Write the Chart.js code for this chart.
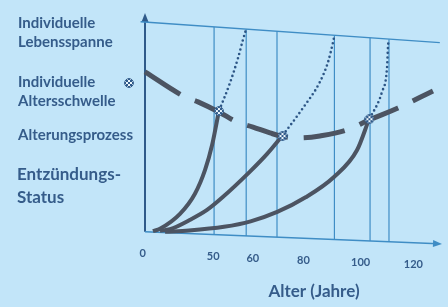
<!DOCTYPE html>
<html>
<head>
<meta charset="utf-8">
<script src="https://cdn.jsdelivr.net/npm/chart.js@4"></script>
<style>
  html, body { margin: 0; padding: 0; background: #c2e5f9; }
  #wrap { width: 448px; height: 307px; }
</style>
</head>
<body>
<div id="wrap"><canvas id="alterChart" width="448" height="307"></canvas></div>
<script>
// x is a schematic position along the age axis (the slide is not to scale), y a relative level
const xTickPos = [-1, 31, 49, 72, 98, 122];
const xTickLabels = ['0', '50', '60', '80', '100', '120'];

// individuelle Lebensspanne (thin top line)
const spanX = [-2, 134];
const spanY = [96, 86.5];

// vertical guide lines
const vLineX = [31.4, 46, 60, 86.1, 102.3, 110.9];
const vLineTop = [93.6, 92.6, 91.6, 89.8, 88.7, 88.0];
const vLineBottom = [-1.3, -1.9, -2.4, -3.5, -4.2, -4.5];

// Alterungsprozess / Altersschwelle (thick dashed)
const schwelleX = [0, 17.3, 24.1, 33.6, 41.8, 49.1, 56.8, 63.6, 70.5, 79.5, 91.8, 101.8, 115, 130.9];
const schwelleY = [73.1, 62.1, 59.4, 54.8, 50.2, 47.9, 45.2, 43.4, 42.9, 43.8, 46.6, 51.1, 56.6, 64.4];

// Entzündungs-Status, three individuals
const curve1X = [3.6, 6.8, 15.9, 22.7, 27.3, 30.5, 33.6];
const curve1Y = [0.3, 1.4, 8.2, 17.4, 28.3, 39.7, 55.3];
const curve2X = [6.8, 11.4, 20.5, 28.2, 35.5, 47.7, 55.5, 62.5];
const curve2Y = [0.5, 1.2, 5.5, 10, 16, 27.5, 35.6, 44];
const curve3X = [9.1, 20, 35.9, 48, 60.1, 73, 85.9, 96.4, 101.8];
const curve3Y = [0, 0.6, 2.3, 4.8, 9.1, 15.8, 25.1, 37.4, 51.4];

// dotted continuation up to the life span
const dot1X = [33.8, 38.6, 42.3, 44.5, 45.9];
const dot1Y = [55.6, 68, 79.5, 87.7, 92.4];
const dot2X = [62.7, 71.8, 79.5, 83.2, 85.5, 86.1];
const dot2Y = [44.2, 56.6, 68.5, 77.6, 86.8, 89.6];
const dot3X = [102.2, 107.7, 110, 110.5, 110.9];
const dot3Y = [51.8, 63.9, 74.9, 85.4, 87.9];

// crossing points
const crossX = [33.6, 62.5, 102];
const crossY = [55.2, 43.8, 51.5];

const leftLabels = [
  ['Individuelle', 28], ['Lebensspanne', 47],
  ['Individuelle', 87], ['Altersschwelle', 106],
  ['Alterungsprozess', 140]
];
const bigLabels = [['Entzündungs-', 180], ['Status', 203]];

const lineCol = '#4c5462';
const blueCol = '#3f8dc5';
const textCol = '#355c8a';

function pts(xs, ys) {
  return xs.map((x, i) => ({ x: x, y: ys[i] }));
}

function makeMarker(size) {
  const c = document.createElement('canvas');
  c.width = size; c.height = size;
  const g = c.getContext('2d');
  const r = size / 2;
  g.beginPath();
  g.arc(r, r, r - 0.6, 0, Math.PI * 2);
  g.fillStyle = '#eef7fc';
  g.fill();
  g.save();
  g.clip();
  g.fillStyle = '#2f5a8a';
  for (let i = 0; i < size; i += 2) {
    for (let j = 0; j < size; j += 2) {
      if ((i + j) % 4 === 0) g.fillRect(i, j, 2, 2);
    }
  }
  g.restore();
  g.strokeStyle = '#2f5a8a';
  g.lineWidth = 1;
  g.stroke();
  return c;
}
const marker = makeMarker(10);

const datasets = [];
datasets.push({
  data: pts(crossX, crossY), showLine: false, pointStyle: marker,
  pointRadius: 5, order: 0, clip: false
});
[[curve1X, curve1Y], [curve2X, curve2Y], [curve3X, curve3Y]].forEach(c => {
  datasets.push({
    data: pts(c[0], c[1]), borderColor: lineCol, borderWidth: 4,
    cubicInterpolationMode: 'monotone', pointRadius: 0, order: 1, clip: false
  });
});
datasets.push({
  data: pts(schwelleX, schwelleY), borderColor: lineCol, borderWidth: 5,
  borderDash: [42, 16], borderCapStyle: 'butt', tension: 0.4,
  pointRadius: 0, order: 2, clip: false
});
[[dot1X, dot1Y], [dot2X, dot2Y], [dot3X, dot3Y]].forEach(c => {
  datasets.push({
    data: pts(c[0], c[1]), borderColor: '#2c5585', borderWidth: 2.6,
    borderDash: [0, 4.6], borderCapStyle: 'round',
    cubicInterpolationMode: 'monotone', pointRadius: 0, order: 3, clip: false
  });
});
vLineX.forEach((x, i) => {
  datasets.push({
    data: [{ x: x, y: vLineBottom[i] }, { x: x, y: vLineTop[i] }],
    borderColor: blueCol, borderWidth: 1.2, pointRadius: 0, order: 4, clip: false
  });
});
datasets.push({
  data: pts(spanX, spanY), borderColor: blueCol, borderWidth: 1.3,
  pointRadius: 0, order: 5, clip: false
});

const axisEndX = 135;
const axisEndY = -5.5;

function arrow(ctx, x1, y1, x2, y2) {
  const a = Math.atan2(y2 - y1, x2 - x1);
  const len = 9, half = 3.5;
  ctx.beginPath();
  ctx.moveTo(x2, y2);
  ctx.lineTo(x2 - len * Math.cos(a) + half * Math.sin(a), y2 - len * Math.sin(a) - half * Math.cos(a));
  ctx.lineTo(x2 - len * Math.cos(a) - half * Math.sin(a), y2 - len * Math.sin(a) + half * Math.cos(a));
  ctx.closePath();
  ctx.fill();
}

const slidePlugin = {
  id: 'slide',
  beforeDatasetsDraw(chart) {
    const ctx = chart.ctx;
    const xs = chart.scales.x, ys = chart.scales.y;
    const x0 = xs.getPixelForValue(0), y0 = ys.getPixelForValue(0);
    ctx.save();
    ctx.strokeStyle = '#2f5a8a';
    ctx.fillStyle = '#2f5a8a';
    ctx.lineWidth = 2;
    ctx.beginPath();
    ctx.moveTo(x0, y0);
    ctx.lineTo(x0, ys.getPixelForValue(100) + 4);
    ctx.stroke();
    arrow(ctx, x0, y0, x0, ys.getPixelForValue(100));
    const xe = xs.getPixelForValue(axisEndX), ye = ys.getPixelForValue(axisEndY);
    ctx.strokeStyle = blueCol;
    ctx.fillStyle = blueCol;
    ctx.lineWidth = 1.5;
    ctx.beginPath();
    ctx.moveTo(x0, y0);
    ctx.lineTo(xe - 4, ye - 0.2);
    ctx.stroke();
    arrow(ctx, x0, y0, xe, ye);
    ctx.restore();
  },
  afterDraw(chart) {
    const ctx = chart.ctx;
    const xs = chart.scales.x, ys = chart.scales.y;
    ctx.save();
    ctx.fillStyle = textCol;
    ctx.textAlign = 'left';
    ctx.textBaseline = 'alphabetic';
    ctx.font = 'bold 15px Lato';
    leftLabels.forEach(l => ctx.fillText(l[0], 18, l[1]));
    ctx.font = 'bold 17px Lato';
    bigLabels.forEach(l => ctx.fillText(l[0], 17, l[1]));
    // tick labels follow the slightly tilted axis
    ctx.textAlign = 'center';
    ctx.textBaseline = 'middle';
    ctx.font = 'bold 11px Lato';
    xTickPos.forEach((p, i) => {
      const ay = ys.getPixelForValue(axisEndY * p / axisEndX);
      ctx.fillText(xTickLabels[i], xs.getPixelForValue(p), ay + 22);
    });
    ctx.font = 'bold 17px Lato';
    ctx.textBaseline = 'alphabetic';
    ctx.fillText('Alter (Jahre)', 314, 297);
    ctx.drawImage(marker, 124, 78);
    ctx.restore();
  }
};

new Chart(document.getElementById('alterChart'), {
  type: 'line',
  data: { datasets: datasets },
  options: {
    responsive: false,
    animation: false,
    devicePixelRatio: 1,
    layout: { padding: { left: 145, right: 6, top: 13, bottom: 62 } },
    scales: {
      x: { type: 'linear', min: 0, max: 135, display: false },
      y: { min: -6, max: 100, display: false }
    },
    plugins: {
      legend: { display: false },
      tooltip: { enabled: false }
    }
  },
  plugins: [slidePlugin]
});
</script>
</body>
</html>
